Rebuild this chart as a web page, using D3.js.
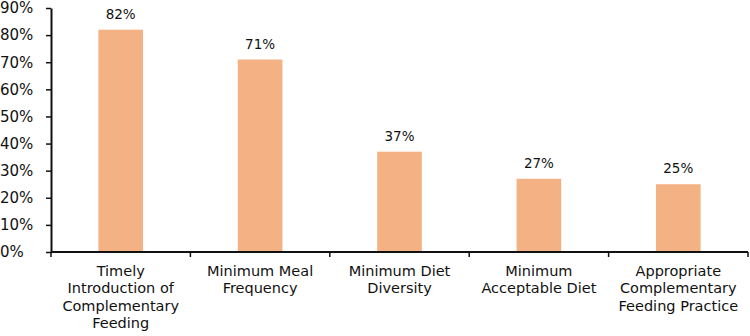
<!DOCTYPE html>
<html>
<head>
<meta charset="utf-8">
<script src="https://cdn.jsdelivr.net/npm/d3@7"></script>
<style>
  body { margin: 0; background: #fff; }
  text { font-family: "DejaVu Sans", Verdana, sans-serif; fill: #111; }
</style>
</head>
<body>
<div id="chart"></div>
<script>
const categories = [
  "Timely Introduction of Complementary Feeding",
  "Minimum Meal Frequency",
  "Minimum Diet Diversity",
  "Minimum Acceptable Diet",
  "Appropriate Complementary Feeding Practice"
];
const labelLines = [
  ["Timely", "Introduction of", "Complementary", "Feeding"],
  ["Minimum Meal", "Frequency"],
  ["Minimum Diet", "Diversity"],
  ["Minimum", "Acceptable Diet"],
  ["Appropriate", "Complementary", "Feeding Practice"]
];
const values = [0.82, 0.71, 0.37, 0.27, 0.25];
const yTicks = [0, 0.1, 0.2, 0.3, 0.4, 0.5, 0.6, 0.7, 0.8, 0.9];

const W = 750, H = 336;
const margin = { top: 8, right: 2, bottom: 84, left: 51 };
const width = W - margin.left - margin.right;
const height = H - margin.top - margin.bottom;

const svg = d3.select("#chart").append("svg")
  .attr("width", W).attr("height", H)
  .append("g")
  .attr("transform", `translate(${margin.left},${margin.top})`);

const x = d3.scaleBand().domain(categories).range([0, width]).paddingInner(0.68).paddingOuter(0.34);
const y = d3.scaleLinear().domain([0, 0.9]).range([height, 0]);

// bars
svg.selectAll(".bar")
  .data(values)
  .join("rect")
  .attr("class", "bar")
  .attr("x", (d, i) => x(categories[i]))
  .attr("y", d => y(d))
  .attr("width", x.bandwidth())
  .attr("height", d => height - y(d))
  .attr("fill", "#F4B183");

// value labels
svg.selectAll(".val")
  .data(values)
  .join("text")
  .attr("class", "val")
  .attr("x", (d, i) => x(categories[i]) + x.bandwidth() / 2)
  .attr("y", d => y(d) - 11)
  .attr("text-anchor", "middle")
  .style("font-size", "13.5px")
  .text(d => Math.round(d * 100) + "%");

// y axis
const yAxis = svg.append("g")
  .call(d3.axisLeft(y).tickValues(yTicks).tickFormat(d3.format(".0%")).tickSize(5).tickSizeOuter(0));
yAxis.select(".domain").attr("stroke", "#111").attr("stroke-width", 2);
yAxis.selectAll(".tick line").attr("stroke", "#111").attr("stroke-width", 1.5);
yAxis.selectAll("text").attr("x", -51).attr("text-anchor", "start")
  .style("font-size", "15px").style("font-family", "'DejaVu Sans', sans-serif").style("fill", "#111");

// x axis baseline with boundary ticks
const step = x.step();
const bounds = d3.range(categories.length + 1).map(i => i * step);
svg.append("line")
  .attr("x1", 0).attr("x2", width)
  .attr("y1", height).attr("y2", height)
  .attr("stroke", "#111").attr("stroke-width", 2);
svg.selectAll(".xt")
  .data(bounds)
  .join("line")
  .attr("class", "xt")
  .attr("x1", d => d).attr("x2", d => d)
  .attr("y1", height).attr("y2", height + 5)
  .attr("stroke", "#111").attr("stroke-width", 1.5);

// category labels
const lab = svg.selectAll(".cat")
  .data(categories)
  .join("text")
  .attr("class", "cat")
  .attr("text-anchor", "middle")
  .attr("x", d => x(d) + x.bandwidth() / 2)
  .attr("y", height + 24)
  .style("font-size", "14.5px");
lab.each(function(d, i) {
  d3.select(this).selectAll("tspan")
    .data(labelLines[i])
    .join("tspan")
    .attr("x", x(d) + x.bandwidth() / 2)
    .attr("dy", (t, j) => j === 0 ? 0 : 17.3)
    .text(t => t);
});
</script>
</body>
</html>
